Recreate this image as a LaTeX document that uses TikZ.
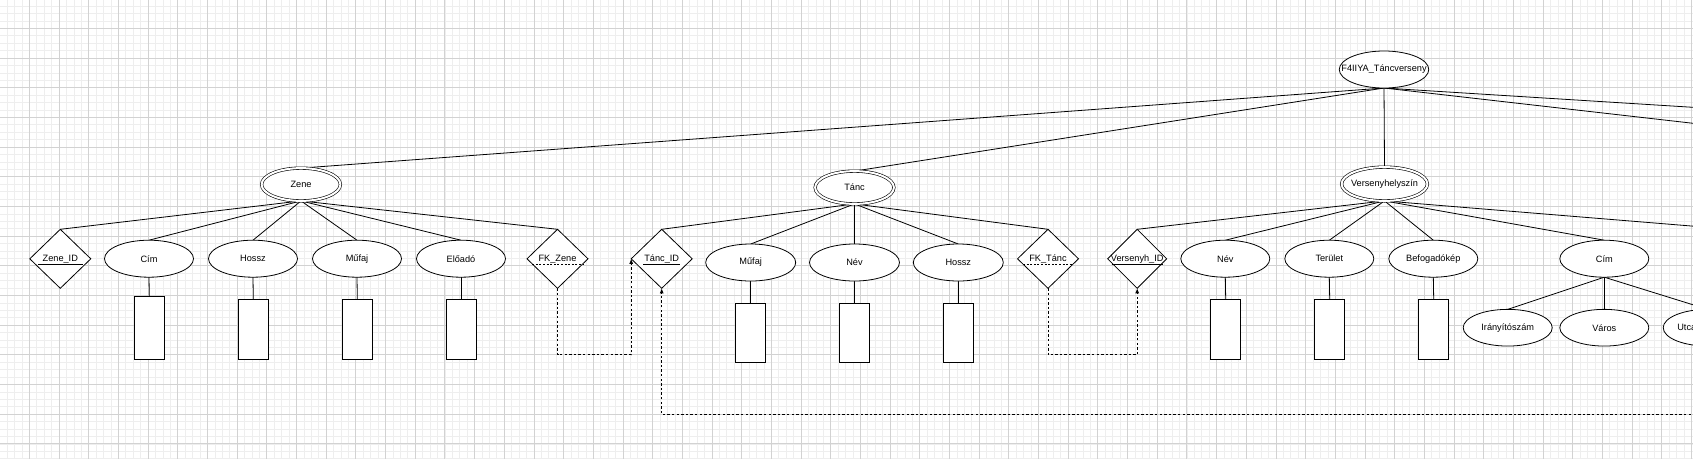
\documentclass[tikz,border=0pt]{standalone}
\usepackage{fontspec}
\setmainfont{Liberation Sans}
\usetikzlibrary{shapes.geometric,arrows.meta,calc}
\pgfdeclarelayer{bg}
\pgfsetlayers{bg,main}
\definecolor{minorgrid}{HTML}{EEEEEE}
\definecolor{majorgrid}{HTML}{D2D2D2}
\newcommand{\mytxt}[1]{\makebox[0pt][c]{#1}}
\begin{document}
\begin{tikzpicture}[x=1pt,y=-1pt,
  every node/.style={font=\fontsize{9.2}{11}\selectfont, inner sep=0pt, outer sep=0pt},
  conn/.style={draw=black, line width=0.8pt},
  attr/.style={ellipse, draw=black, line width=0.8pt, minimum width=89pt, minimum height=37pt, fill=white},
  ent/.style={ellipse, draw=black, double, double distance=2pt, line width=0.6pt, minimum width=78.8pt, minimum height=32.8pt, fill=white},
  keyd/.style={diamond, draw=black, line width=0.8pt, minimum width=61pt, minimum height=59pt, fill=white},
  valbox/.style={rectangle, draw=black, line width=0.8pt, minimum width=30pt, minimum height=60pt, fill=white},
  fkarrow/.style={draw=black, line width=0.8pt, dash pattern=on 2.4pt off 2.2pt, -{Latex[length=5pt,width=4pt]}},
  keyline/.style={draw=black, line width=0.8pt},
  fkline/.style={draw=black, line width=0.8pt, dash pattern=on 2pt off 1.6pt}
]
\useasboundingbox (0,0) rectangle (1693,459);
\clip (0,0) rectangle (1693,459);

% ---------- nodes ----------
\node[attr, minimum width=89.5pt] (root) at (1384,69.5) {\mytxt{F4IIYA\_Táncverseny}};
\node[ent] (zene) at (301,184.5) {\mytxt{Zene}};
\node[ent] (tanc) at (854.5,187.5) {\mytxt{Tánc}};
\node[ent, minimum width=85.8pt, minimum height=33.8pt] (vh) at (1384.5,184) {\mytxt{Versenyhelyszín}};

% Zene children
\node[keyd] (zid) at (60.3,258.8) {\mytxt{Zene\_ID}};
\node[attr] (zcim) at (149,258.7) {\mytxt{Cím}};
\node[attr] (zhossz) at (253,258.7) {\mytxt{Hossz}};
\node[attr] (zmufaj) at (357,258.7) {\mytxt{Műfaj}};
\node[attr] (zeloado) at (461,258.7) {\mytxt{Előadó}};
\node[keyd] (fkz) at (557.5,258.8) {\mytxt{FK\_Zene}};
\node[valbox, minimum height=63.3pt] (zcimv) at (149.3,327.7) {};
\node[valbox] (zhosszv) at (253.3,329.3) {};
\node[valbox] (zmufajv) at (357.3,329.3) {};
\node[valbox] (zeloadov) at (461,329.3) {};

% Tanc children
\node[keyd] (tid) at (661.7,258.8) {\mytxt{Tánc\_ID}};
\node[attr, minimum width=90pt] (tmufaj) at (750.7,262.5) {\mytxt{Műfaj}};
\node[attr, minimum width=90pt] (tnev) at (854.5,262.5) {\mytxt{Név}};
\node[attr, minimum width=90pt] (thossz) at (958.3,262.5) {\mytxt{Hossz}};
\node[keyd] (fkt) at (1048,258.8) {\mytxt{FK\_Tánc}};
\node[valbox, minimum height=59.4pt] (tmufajv) at (750.7,333) {};
\node[valbox, minimum height=59.4pt] (tnevv) at (854.5,333) {};
\node[valbox, minimum height=59.4pt] (thosszv) at (958.3,333) {};

% Versenyhelyszin children
\node[keyd, minimum width=59pt] (vid) at (1137.2,258.8) {\mytxt{Versenyh\_ID}};
\node[attr] (vnev) at (1225.3,258.7) {\mytxt{Név}};
\node[attr] (vter) at (1329.3,258.7) {\mytxt{Terület}};
\node[attr] (vbef) at (1433.3,258.7) {\mytxt{Befogadókép}};
\node[attr] (vcim) at (1604.3,258.7) {\mytxt{Cím}};
\node[valbox] (vnevv) at (1225.7,329.3) {};
\node[valbox] (vterv) at (1329.7,329.3) {};
\node[valbox] (vbefv) at (1433.7,329.3) {};
\node[attr, minimum height=36.7pt] (virsz) at (1507.7,327.7) {\mytxt{Irányítószám}};
\node[attr, minimum height=36.7pt] (vvaros) at (1604.3,327.7) {\mytxt{Város}};
\node[attr, minimum height=36.7pt] (vutca) at (1707.7,327.7) {\mytxt{Utca, házszám}};

% free ends beyond the right edge
\coordinate (rA) at (1800,114);
\coordinate (rB) at (1800,135.5);
\coordinate (vC) at (1800,234.9);
\coordinate (tailT) at (1760,414.3);

% key underlines
\draw[keyline] ($(zid.center)+(-22.3,5.5)$) -- ($(zid.center)+(22.3,5.5)$);
\draw[keyline] ($(tid.center)+(-18.7,6)$) -- ($(tid.center)+(18.7,6)$);
\draw[keyline] ($(vid.center)+(-25.5,6)$) -- ($(vid.center)+(25.5,6)$);
\draw[fkline] ($(fkz.center)+(-25.3,5.5)$) -- ($(fkz.center)+(25.3,5.5)$);
\draw[fkline] ($(fkt.center)+(-25,5.2)$) -- ($(fkt.center)+(25,5.2)$);

% foreign key arrows
\draw[fkarrow] (fkz.south) -- ++(0,66.5) -| (tid.west);
\draw[fkarrow] (fkt.south) -- ++(0,66.5) -| (vid.south);
\draw[fkarrow] (tailT) -| (tid.south);

% ---------- background: grid and connectors ----------
\begin{pgfonlayer}{bg}
\clip (0,0) rectangle (1693,459);
\foreach \k in {0,...,229} {\draw[minorgrid, line width=0.6pt] ({-0.38+7.42*\k},0) -- ++(0,459);}
\foreach \k in {0,...,62} {\draw[minorgrid, line width=0.6pt] (0,{-1.38+7.42*\k}) -- ++(1693,0);}
\foreach \k in {0,...,57} {\draw[majorgrid, line width=0.7pt] ({-0.38+29.68*\k},0) -- ++(0,459);}
\foreach \k in {0,...,16} {\draw[majorgrid, line width=0.7pt] (0,{-1.38+29.68*\k}) -- ++(1693,0);}

\foreach \c in {zene,tanc,vh,rA,rB} {\draw[conn] (root.south) -- (\c.north);}
\foreach \c in {zid,zcim,zhossz,zmufaj,zeloado,fkz} {\draw[conn] (zene.south) -- (\c.north);}
\foreach \c in {tid,tmufaj,tnev,thossz,fkt} {\draw[conn] (tanc.south) -- (\c.north);}
\foreach \c in {vid,vnev,vter,vbef,vcim,vC} {\draw[conn] (vh.south) -- (\c.north);}
\foreach \c in {virsz,vvaros,vutca} {\draw[conn] (vcim.south) -- (\c.north);}
\foreach \a/\b in {zcim/zcimv,zhossz/zhosszv,zmufaj/zmufajv,zeloado/zeloadov,tmufaj/tmufajv,tnev/tnevv,thossz/thosszv,vnev/vnevv,vter/vterv,vbef/vbefv} {\draw[conn] (\a.south) -- (\b.north);}
\end{pgfonlayer}
\end{tikzpicture}
\end{document}
